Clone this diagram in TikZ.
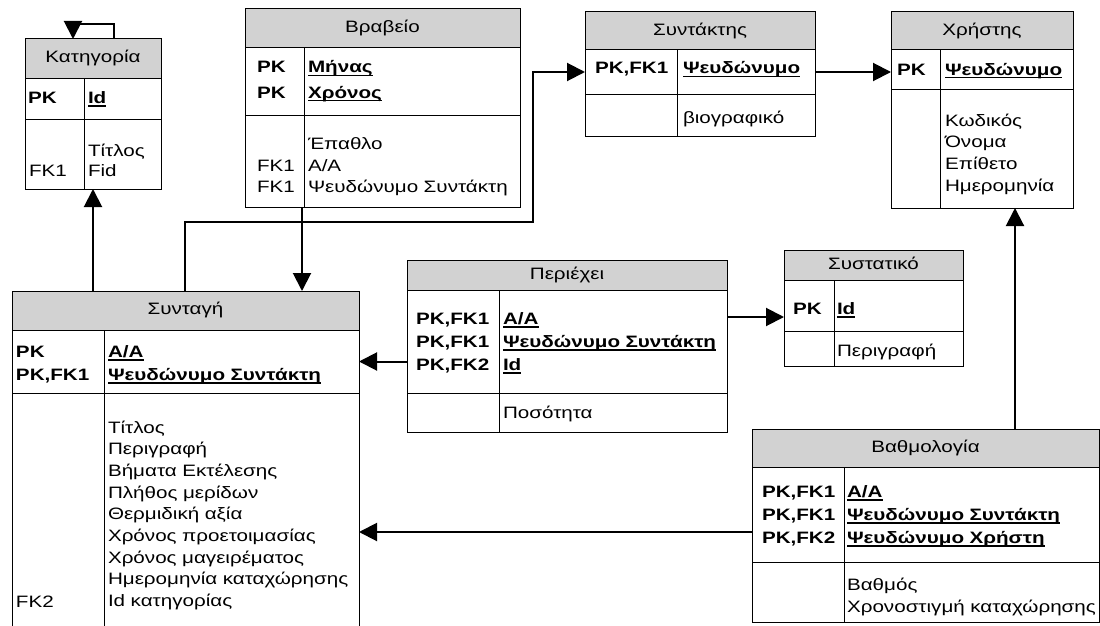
\documentclass[tikz,border=0pt]{standalone}
\usepackage{fontspec}
\setmainfont{Liberation Sans}[FakeStretch=1.25]
\usetikzlibrary{arrows.meta, positioning}

\newcommand\keyul[1]{\leavevmode\setbox0\hbox{#1}\rlap{\rule[-3.5pt]{\wd0}{1.3pt}}\box0}

\begin{document}
\begin{tikzpicture}[
		x=1pt, y=-1pt,
		font=\fontsize{16.5}{21.7}\selectfont,
		nodes={inner sep=0pt, outer sep=0pt},
		head/.style={
			draw,
			line width=1pt,
			fill=gray!35,
			anchor=north west,
			minimum height=38pt,
			text height=12pt,
			text depth=3.8pt
		},
		row/.style={
			draw,
			line width=1pt,
			fill=white,
			below=0pt of #1
		},
		divider/.style={
			line width=1pt
		},
		cell/.style={
			anchor=base west,
			text width=260pt,
			align=left
		},
		key/.style={
			cell,
			font=\fontsize{16.5}{23}\selectfont\bfseries
		},
		rel/.style={
			line width=2pt,
			-{Triangle[length=18pt,width=18pt]}
		}
	]
	\useasboundingbox (0,0) rectangle (1100,626);

	% Kategoria
	\node[head, minimum width=136pt, minimum height=39pt] (kat-t) at (25,39) {Κατηγορία};
	\node[row=kat-t, minimum width=136pt, minimum height=41pt] (kat-k) {};
	\node[row=kat-k, minimum width=136pt, minimum height=70pt] (kat-a) {};
	\draw[divider] ([xshift=59pt]kat-k.north west) -- ([xshift=59pt]kat-a.south west);
	\node[key] (kat-pk) at (28,103) {PK};
	\node[key] (kat-id) at (88,103) {\keyul{Id}};
	\node[cell] (kat-fk) at (29,176) {FK1};
	\node[cell, font=\fontsize{16.5}{20}\selectfont] (kat-at) at (88,156) {Τίτλος\\Fid};

	% Vraveio
	\node[head, minimum width=275pt, minimum height=39pt] (vrav-t) at (245,9) {Βραβείο};
	\node[row=vrav-t, minimum width=275pt, minimum height=67pt] (vrav-k) {};
	\node[row=vrav-k, minimum width=275pt, minimum height=92pt] (vrav-a) {};
	\draw[divider] ([xshift=59pt]vrav-k.north west) -- ([xshift=59pt]vrav-a.south west);
	\node[key, font=\fontsize{16.5}{25}\selectfont\bfseries] (vrav-pk) at (257,73) {PK\\PK};
	\node[key, font=\fontsize{16.5}{25}\selectfont\bfseries] (vrav-id) at (308,73) {\keyul{Μήνας}\\\keyul{Χρόνος}};
	\node[cell, font=\fontsize{16.5}{21.5}\selectfont] (vrav-fk) at (257,171) {FK1\\FK1};
	\node[cell, font=\fontsize{16.5}{21.5}\selectfont] (vrav-at) at (308,149.5) {Έπαθλο\\Α/Α\\Ψευδώνυμο Συντάκτη};

	% Syntaktis
	\node[head, minimum width=230pt] (synt-t) at (585,12) {Συντάκτης};
	\node[row=synt-t, minimum width=230pt, minimum height=44pt] (synt-k) {};
	\node[row=synt-k, minimum width=230pt, minimum height=42pt] (synt-a) {};
	\draw[divider] ([xshift=92pt]synt-k.north west) -- ([xshift=92pt]synt-a.south west);
	\node[key] (synt-pk) at (595,74) {PK,FK1};
	\node[key] (synt-id) at (683,74) {\keyul{Ψευδώνυμο}};
	\node[cell] (synt-at) at (683,123) {βιογραφικό};

	% Xristis
	\node[head, minimum width=182pt] (xris-t) at (891,12) {Χρήστης};
	\node[row=xris-t, minimum width=182pt, minimum height=39pt] (xris-k) {};
	\node[row=xris-k, minimum width=182pt, minimum height=119pt] (xris-a) {};
	\draw[divider] ([xshift=49pt]xris-k.north west) -- ([xshift=49pt]xris-a.south west);
	\node[key] (xris-pk) at (897,75) {PK};
	\node[key] (xris-id) at (945,75) {\keyul{Ψευδώνυμο}};
	\node[cell] (xris-at) at (945,126) {Κωδικός\\Όνομα\\Επίθετο\\Ημερομηνία};

	% Syntagi
	\node[head, minimum width=347pt, minimum height=39pt] (syntagi-t) at (12,291) {Συνταγή};
	\node[row=syntagi-t, minimum width=347pt, minimum height=63pt] (syntagi-k) {};
	\node[row=syntagi-k, minimum width=347pt, minimum height=300pt] (syntagi-a) {};
	\draw[divider] ([xshift=92pt]syntagi-k.north west) -- ([xshift=92pt]syntagi-a.south west);
	\node[key] (syntagi-pk) at (16,357) {PK\\PK,FK1};
	\node[key] (syntagi-id) at (108,357) {\keyul{Α/Α}\\\keyul{Ψευδώνυμο Συντάκτη}};
	\node[cell] (syntagi-fk) at (16,607) {FK2};
	\node[cell] (syntagi-at) at (108,433) {Τίτλος\\Περιγραφή\\Βήματα Εκτέλεσης\\Πλήθος μερίδων\\Θερμιδική αξία\\Χρόνος προετοιμασίας\\Χρόνος μαγειρέματος\\Ημερομηνία καταχώρησης\\Id κατηγορίας};

	% Periexei
	\node[head, minimum width=320pt, minimum height=30pt] (periexei-t) at (407,260) {Περιέχει};
	\node[row=periexei-t, minimum width=320pt, minimum height=103pt] (periexei-k) {};
	\node[row=periexei-k, minimum width=320pt, minimum height=39pt] (periexei-a) {};
	\draw[divider] ([xshift=92pt]periexei-k.north west) -- ([xshift=92pt]periexei-a.south west);
	\node[key] (periexei-pk) at (416,324) {PK,FK1\\PK,FK1\\PK,FK2};
	\node[key] (periexei-id) at (503,324) {\keyul{Α/Α}\\\keyul{Ψευδώνυμο Συντάκτη}\\\keyul{Id}};
	\node[cell] (periexei-at) at (503,418) {Ποσότητα};

	% Systatiko
	\node[head, minimum width=179pt, minimum height=30pt] (syst-t) at (784,250) {Συστατικό};
	\node[row=syst-t, minimum width=179pt, minimum height=51pt] (syst-k) {};
	\node[row=syst-k, minimum width=179pt, minimum height=35pt] (syst-a) {};
	\draw[divider] ([xshift=50pt]syst-k.north west) -- ([xshift=50pt]syst-a.south west);
	\node[key] (syst-pk) at (793,314) {PK};
	\node[key] (syst-id) at (837,314) {\keyul{Id}};
	\node[cell] (syst-at) at (837,356) {Περιγραφή};

	% Vathmologia
	\node[head, minimum width=347pt] (vathm-t) at (752,429) {Βαθμολογία};
	\node[row=vathm-t, minimum width=347pt, minimum height=95pt] (vathm-k) {};
	\node[row=vathm-k, minimum width=347pt, minimum height=60pt] (vathm-a) {};
	\draw[divider] ([xshift=92pt]vathm-k.north west) -- ([xshift=92pt]vathm-a.south west);
	\node[key] (vathm-pk) at (762,497) {PK,FK1\\PK,FK1\\PK,FK2};
	\node[key] (vathm-id) at (847,497) {\keyul{Α/Α}\\\keyul{Ψευδώνυμο Συντάκτη}\\\keyul{Ψευδώνυμο Χρήστη}};
	\node[cell, font=\fontsize{16.5}{22}\selectfont] (vathm-at) at (847,590) {Βαθμός\\Χρονοστιγμή καταχώρησης};

	% connectors
	\coordinate (vrav-out) at ([xshift=57pt]vrav-a.south west);
	\coordinate (synt-bend) at (533,222);
	\coordinate (syst-in) at ([yshift=-11.5pt]syst-k.west);
	\coordinate (vathm-out) at ([yshift=-17.5pt]vathm-k.west);
	\coordinate (xris-in) at ([xshift=33pt]xris-a.south);

	\draw[rel] ([xshift=21pt]kat-t.north) -- ++(0,-15) -| ([xshift=-20pt]kat-t.north);
	\draw[rel] (syntagi-t.north -| kat-a.south) -- (kat-a.south);
	\draw[rel] ([xshift=173pt]syntagi-t.north west) |- (synt-bend) |- (synt-k.west);
	\draw[rel] (vrav-out) -- (vrav-out |- syntagi-t.north);
	\draw[rel] (synt-k.east) -- (synt-k.east -| xris-k.west);
	\draw[rel] (syntagi-k.east -| periexei-k.west) -- (syntagi-k.east);
	\draw[rel] (syst-in -| periexei-k.east) -- (syst-in);
	\draw[rel] (xris-in |- vathm-t.north) -- (xris-in);
	\draw[rel] (vathm-out) -- (vathm-out -| syntagi-a.east);
\end{tikzpicture}
\end{document}
